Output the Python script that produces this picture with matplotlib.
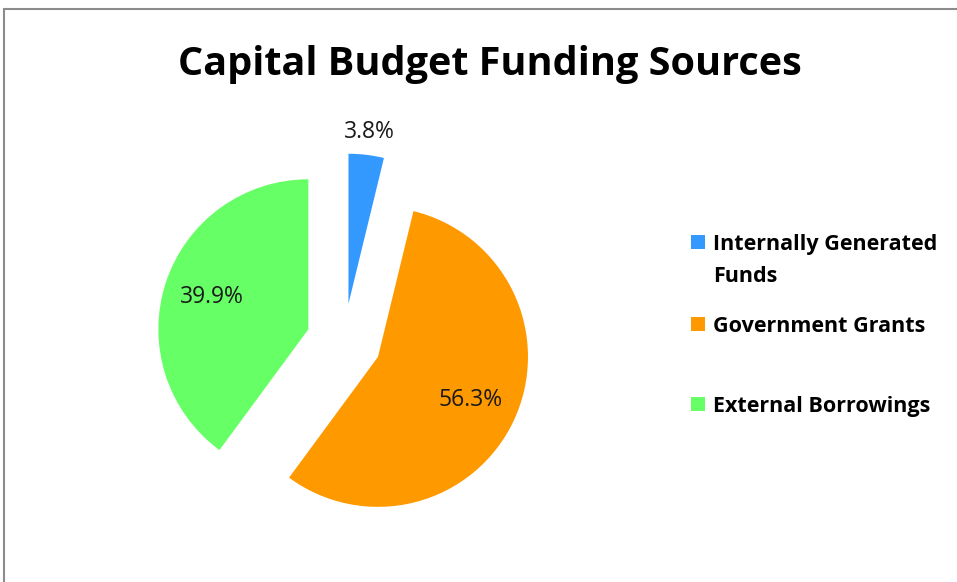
import matplotlib
matplotlib.use("Agg")
import matplotlib.pyplot as plt
import matplotlib.patches as mpatches
import numpy as np

# funding sources and their share of the capital budget (%)
sources = ["Internally Generated\nFunds", "Government Grants", "External Borrowings"]
shares = [3.8, 56.3, 39.9]
colors = ["#3399FF", "#FF9900", "#66FF66"]

W, H = 957, 582
FONT = "Open Sans"
fig = plt.figure(figsize=(W / 100, H / 100), dpi=100)

# outer chart border (cut off on the right and bottom like the screenshot)
fig.patches.append(mpatches.Rectangle((4 / W, -0.1), 1.2, 1 - 9 / H + 0.1,
                                      transform=fig.transFigure, fill=False,
                                      edgecolor="#8c8c8c", linewidth=1.5))

fig.text(490 / W, 1 - 75 / H, "Capital Budget Funding Sources", ha="center",
         va="baseline", fontsize=28.5, fontweight="bold", family=FONT)

# pie sits in a square axes, 150 px radius
ax = fig.add_axes([104 / W, 1 / H, 480 / W, 480 / H])
wedges, texts, autotexts = ax.pie(shares, colors=colors, startangle=90,
                                  counterclock=False, explode=[0.25] * 3,
                                  autopct="%.1f%%", pctdistance=0.68,
                                  textprops=dict(fontsize=16.5, family=FONT,
                                                 color="#1a1a1a"))
ax.set_xlim(-1.6, 1.6)
ax.set_ylim(-1.6, 1.6)
ax.axis("off")

# the small slice gets its label outside
w = wedges[0]
ang = np.deg2rad((w.theta1 + w.theta2) / 2)
cx, cy = w.center
autotexts[0].set_position((cx + 1.15 * np.cos(ang), cy + 1.15 * np.sin(ang)))

# legend on the right, drawn by hand to keep Excel's spacing
baselines = [250, 332, 412]   # baselines of each label's first line, px from top
line_step = 32
for wedge, name, yb in zip(wedges, sources, baselines):
    fig.patches.append(mpatches.Rectangle((691 / W, 1 - (yb - 1) / H), 14 / W, 14 / H,
                                          transform=fig.transFigure,
                                          facecolor=wedge.get_facecolor(),
                                          edgecolor="none"))
    # one text per line so the line gap is exact
    for k, line in enumerate(name.split("\n")):
        fig.text(713 / W, 1 - (yb + k * line_step) / H, line, ha="left",
                 va="baseline", fontsize=15.5, fontweight="bold", family=FONT)

fig.savefig("out.png", dpi=100)
